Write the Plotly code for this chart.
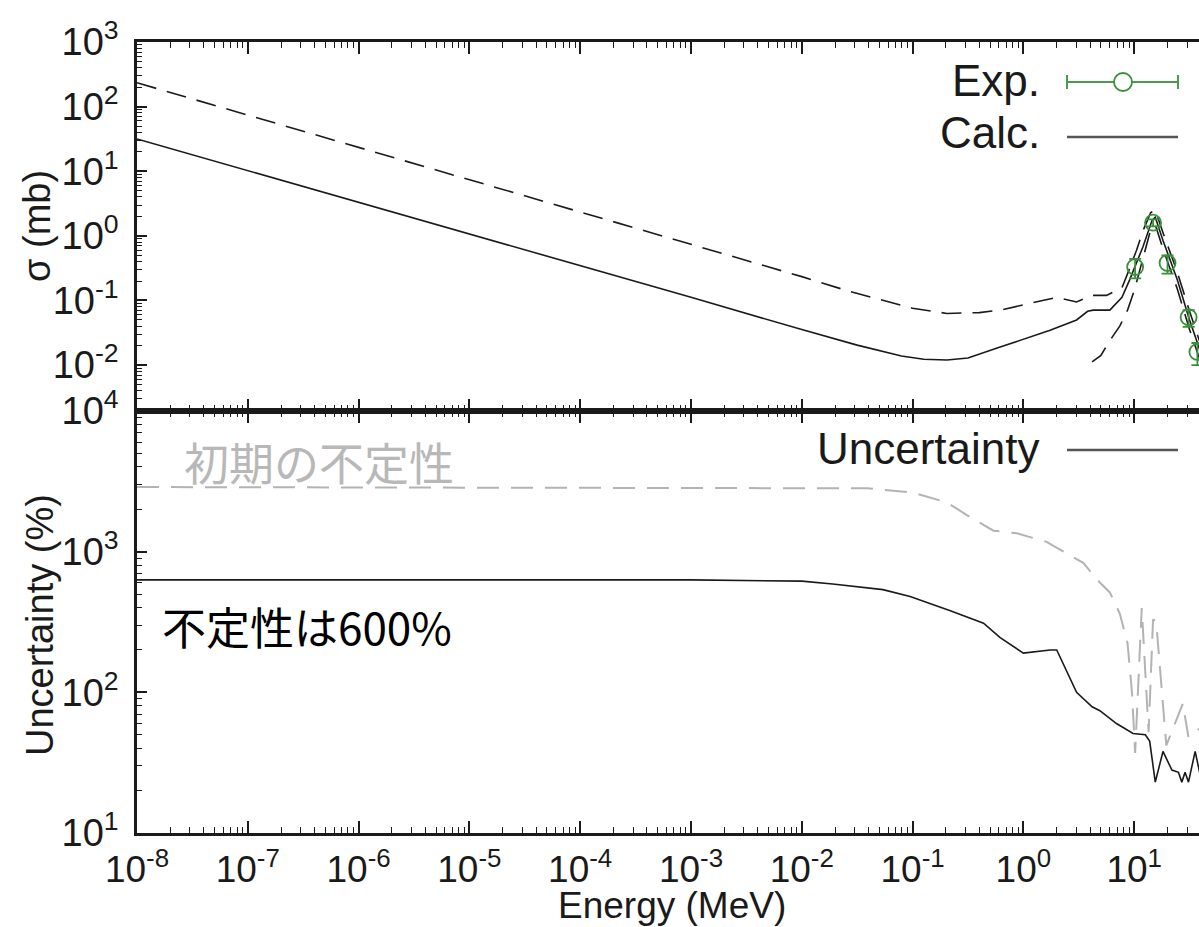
import plotly.graph_objects as go

# ---------------- data ----------------
calc_e = [1e-8, 1e-6, 1e-4, 1e-3, 1e-2, 0.0316, 0.0794, 0.126, 0.204, 0.316, 0.617, 1.0,
          1.74, 3.02, 3.80, 4.27, 6.03, 7.76, 9.12, 12.0, 14.5, 15.5, 18.2, 24.5, 31.6, 39.8]
calc_xs = [31.6, 3.3, 0.35, 0.112, 0.0355, 0.0204, 0.0138, 0.0123, 0.012, 0.0129, 0.019, 0.025,
           0.0347, 0.05, 0.068, 0.071, 0.071, 0.112, 0.21, 0.68, 1.74, 1.95, 0.85, 0.21, 0.05, 0.0158]

upper_e = [1e-8, 1e-6, 1e-4, 1e-3, 1e-2, 0.027, 0.1, 0.204, 0.40, 0.617, 1.62, 2.0, 3.02,
           4.17, 5.62, 7.76, 9.12, 10.5, 12.0, 14.1, 15.5, 18.2, 24.5, 31.6, 39.8]
upper_xs = [234, 23.4, 2.34, 0.74, 0.234, 0.138, 0.076, 0.063, 0.065, 0.071, 0.102, 0.112, 0.095,
            0.12, 0.12, 0.158, 0.316, 0.60, 1.20, 2.29, 2.51, 1.12, 0.275, 0.068, 0.021]

lower_e = [4.17, 5.01, 6.03, 7.41, 8.71, 10.0, 12.0, 14.1, 15.5, 18.2, 24.5, 31.6, 39.8]
lower_xs = [0.0112, 0.0141, 0.024, 0.040, 0.071, 0.141, 0.447, 1.26, 1.48, 0.63, 0.151, 0.0355, 0.0112]

exp_e = [10.2, 14.8, 20.0, 31.0, 37.2]
exp_xs = [0.33, 1.6, 0.38, 0.055, 0.016]
exp_err = [0.11, 0.2, 0.12, 0.016, 0.006]

unc_e = [1e-8, 1e-3, 1e-2, 0.019, 0.054, 0.095, 0.219, 0.437, 0.617, 1.0, 1.74, 2.0, 3.02, 4.17,
         4.90, 6.92, 9.77, 12.6, 13.8, 15.5, 18.2, 21.9, 25.1, 26.9, 28.8, 30.9, 35.5, 39.8]
unc_val = [630, 630, 617, 589, 537, 480, 380, 310, 245, 190, 200, 200, 100, 79,
           74, 60, 51, 50, 45, 23, 38, 28, 27, 23, 27, 23, 38, 25]

prior_e = [1e-8, 0.039, 0.1, 0.204, 0.309, 0.537, 0.871, 1.62, 3.47, 4.90, 6.03, 7.41, 8.71,
           9.55, 10.2, 11.7, 13.5, 14.8, 15.8, 19.5, 27.5, 30.9, 39.8]
prior_val = [2880, 2820, 2630, 2240, 1820, 1410, 1350, 1175, 832, 603, 513, 363, 224,
             100, 37, 398, 52, 331, 316, 42, 83, 48, 56]

x_exponents = [-8, -7, -6, -5, -4, -3, -2, -1, 0, 1]
y1_exponents = [-2, -1, 0, 1, 2, 3]
y2_exponents = [1, 2, 3, 4]

# ---------------- figure ----------------
FONT = "Liberation Sans, Arial, sans-serif"
BLACK = "#1a1a1a"
GREEN = "#3a8f3a"

fig = go.Figure()

fig.add_trace(go.Scatter(x=upper_e, y=upper_xs, mode="lines", xaxis="x", yaxis="y",
                         line=dict(color=BLACK, width=1.6, dash="20px,11px"), showlegend=False))
fig.add_trace(go.Scatter(x=lower_e, y=lower_xs, mode="lines", xaxis="x", yaxis="y",
                         line=dict(color=BLACK, width=1.6, dash="20px,11px"), showlegend=False))
fig.add_trace(go.Scatter(x=calc_e, y=calc_xs, mode="lines", xaxis="x", yaxis="y",
                         line=dict(color=BLACK, width=1.6), showlegend=False))
fig.add_trace(go.Scatter(x=exp_e, y=exp_xs, mode="markers", xaxis="x", yaxis="y",
                         marker=dict(symbol="circle-open", size=16, color=GREEN,
                                     line=dict(width=1.8, color=GREEN)),
                         error_y=dict(type="data", array=exp_err, color=GREEN,
                                      thickness=1.8, width=6),
                         showlegend=False))

fig.add_trace(go.Scatter(x=prior_e, y=prior_val, mode="lines", xaxis="x2", yaxis="y2",
                         line=dict(color="#b3b3b3", width=2, dash="22px,12px"), showlegend=False))
fig.add_trace(go.Scatter(x=unc_e, y=unc_val, mode="lines", xaxis="x2", yaxis="y2",
                         line=dict(color=BLACK, width=1.6), showlegend=False))

minor_x = [k * 10.0 ** n for n in range(-8, 2) for k in range(2, 10)]
minor_y1 = [k * 10.0 ** n for n in range(-3, 3) for k in range(2, 10)]
minor_y2 = [k * 10.0 ** n for n in range(1, 4) for k in range(2, 10)]


def sup_labels(exps):
    return [f"10<sup>{e}</sup>" for e in exps]


xcommon = dict(type="log", range=[-8, 1.585], showline=True, linecolor=BLACK, linewidth=2.5,
               mirror="allticks", ticks="inside", ticklen=12, tickwidth=1.5, tickcolor=BLACK,
               tickmode="array", tickvals=[10.0 ** e for e in x_exponents],
               ticktext=sup_labels(x_exponents), showgrid=False, zeroline=False,
               automargin=False,
               minor=dict(ticks="inside", ticklen=6, tickwidth=1.2, tickcolor=BLACK,
                          tickmode="array", tickvals=minor_x, showgrid=False),
               tickfont=dict(family=FONT, size=37, color=BLACK))

ycommon = dict(type="log", showline=True, linecolor=BLACK, linewidth=2.5, mirror=False,
               ticks="inside", ticklen=10, tickwidth=1.5, tickcolor=BLACK,
               tickmode="array", showgrid=False, zeroline=False, automargin=False,
               ticklabelstandoff=8, tickfont=dict(family=FONT, size=38, color=BLACK))

fig.update_layout(
    width=1199, height=927,
    margin=dict(l=137, r=0, t=42, b=94, autoexpand=False),
    paper_bgcolor="white", plot_bgcolor="white",
    showlegend=False,
    font=dict(family=FONT, color=BLACK),
    xaxis=dict(xcommon, domain=[0, 1], anchor="y", showticklabels=False),
    xaxis2=dict(xcommon, domain=[0, 1], anchor="y2", matches="x", showticklabels=True,
                ticklabelstandoff=2),
    yaxis=dict(ycommon, range=[-2.71, 3.0], domain=[0.5335, 1], anchor="x",
               tickvals=[10.0 ** e for e in y1_exponents], ticktext=sup_labels(y1_exponents),
               minor=dict(ticks="inside", ticklen=5, tickwidth=1.2, tickcolor=BLACK,
                          tickmode="array", tickvals=minor_y1, showgrid=False)),
    yaxis2=dict(ycommon, range=[1, 4.0], domain=[0, 0.5335], anchor="x2",
                tickvals=[10.0 ** e for e in y2_exponents], ticktext=sup_labels(y2_exponents),
                minor=dict(ticks="inside", ticklen=5, tickwidth=1.2, tickcolor=BLACK,
                           tickmode="array", tickvals=minor_y2, showgrid=False)),
)

# plot area in pixels: x 137..1199 (1062 px), y 42..833 (791 px)
def px(x):
    return (x - 137) / 1062.0


def py(y):
    return (833 - y) / 791.0


annotations = [
    dict(text="σ (mb)", x=px(37), y=py(226), textangle=-90, size=38),
    dict(text="Uncertainty (%)", x=px(40), y=py(625), textangle=-90, size=38),
    dict(text="Energy (MeV)", x=px(672), y=py(905), textangle=0, size=37),
]
for a in annotations:
    fig.add_annotation(text=a["text"], x=a["x"], y=a["y"], xref="paper", yref="paper",
                       textangle=a["textangle"], showarrow=False, xanchor="center",
                       yanchor="middle", font=dict(family=FONT, size=a["size"], color=BLACK))

# legend-like labels (gnuplot style: text right-aligned, sample to the right)
legend_items = [("Exp.", 80), ("Calc.", 133), ("Uncertainty", 448)]
for txt, yy in legend_items:
    fig.add_annotation(text=txt, x=px(1042), y=py(yy), xref="paper", yref="paper",
                       showarrow=False, xanchor="right", yanchor="middle",
                       font=dict(family=FONT, size=44, color=BLACK))

# Exp. sample
fig.add_shape(type="line", xref="paper", yref="paper", x0=px(1067), x1=px(1178),
              y0=py(82), y1=py(82), line=dict(color="#4c9a4c", width=2))
for cx in (1067, 1178):
    fig.add_shape(type="line", xref="paper", yref="paper", x0=px(cx), x1=px(cx),
                  y0=py(75), y1=py(89), line=dict(color="#4c9a4c", width=2))
fig.add_shape(type="circle", xref="paper", yref="paper", x0=px(1114), x1=px(1132),
              y0=py(91), y1=py(73), line=dict(color=GREEN, width=1.8), fillcolor="white")
# Calc. and Uncertainty samples
for yy in (137, 450):
    fig.add_shape(type="line", xref="paper", yref="paper", x0=px(1067), x1=px(1178),
                  y0=py(yy), y1=py(yy), line=dict(color="#555555", width=2.5))

# Japanese notes
fig.add_annotation(text="初期の不定性", x=px(182), y=py(461), xref="paper", yref="paper",
                   showarrow=False, xanchor="left", yanchor="middle",
                   font=dict(family="Noto Sans CJK JP", size=45, color="#b8b8b8"))
fig.add_annotation(text="不定性は600%", x=px(160), y=py(626), xref="paper", yref="paper",
                   showarrow=False, xanchor="left", yanchor="middle",
                   font=dict(family="Noto Sans CJK JP", size=44, color="#000000"))

fig.write_html("out.html", config={"displayModeBar": False},
               post_script="document.body.style.margin='0';document.body.style.overflow='hidden';")
